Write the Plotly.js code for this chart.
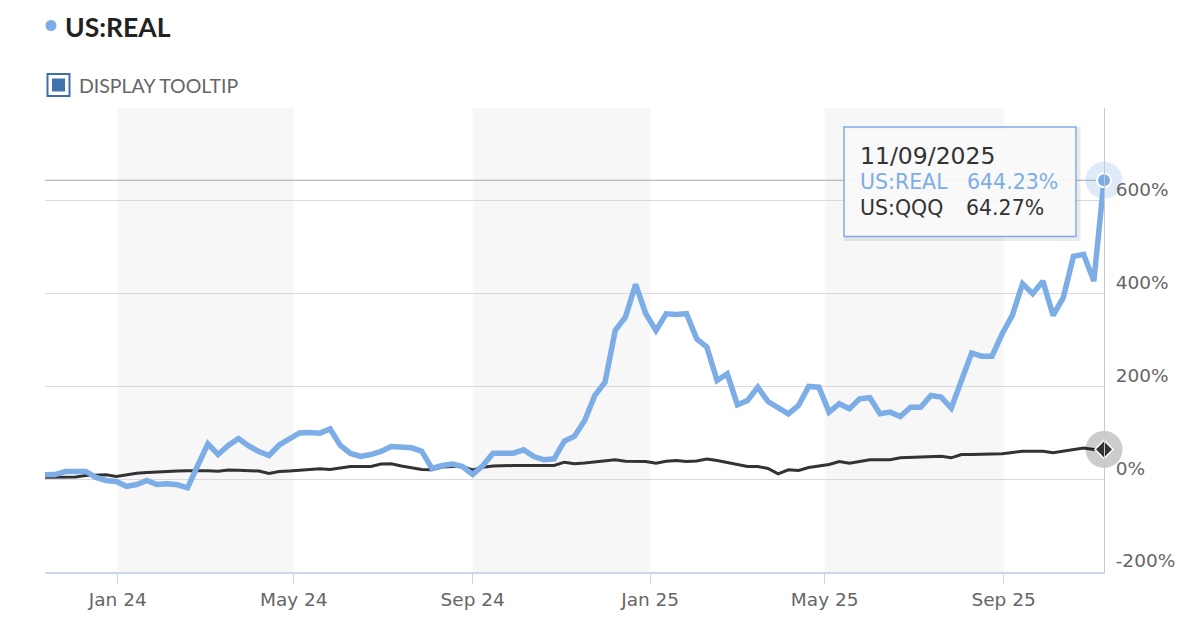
<!DOCTYPE html>
<html>
<head>
<meta charset="utf-8">
<script src="https://cdn.plot.ly/plotly-3.0.1.min.js"></script>
<style>
html,body{margin:0;padding:0;background:#fff;}
#chart{width:1200px;height:633px;}
</style>
</head>
<body>
<div id="chart"></div>
<script>
const dates = [
'2023-11-12','2023-11-19','2023-11-26','2023-12-03','2023-12-10','2023-12-17','2023-12-24','2023-12-31',
'2024-01-07','2024-01-14','2024-01-21','2024-01-28','2024-02-04','2024-02-11','2024-02-18','2024-02-25',
'2024-03-03','2024-03-10','2024-03-17','2024-03-24','2024-03-31','2024-04-07','2024-04-14','2024-04-21',
'2024-04-28','2024-05-05','2024-05-12','2024-05-19','2024-05-26','2024-06-02','2024-06-09','2024-06-16',
'2024-06-23','2024-06-30','2024-07-07','2024-07-14','2024-07-21','2024-07-28','2024-08-04','2024-08-11',
'2024-08-18','2024-08-25','2024-09-01','2024-09-08','2024-09-15','2024-09-22','2024-09-29','2024-10-06',
'2024-10-13','2024-10-20','2024-10-27','2024-11-03','2024-11-10','2024-11-17','2024-11-24','2024-12-01',
'2024-12-08','2024-12-15','2024-12-22','2024-12-29',
'2025-01-05','2025-01-12','2025-01-19','2025-01-26','2025-02-02','2025-02-09','2025-02-16','2025-02-23',
'2025-03-02','2025-03-09','2025-03-16','2025-03-23','2025-03-30','2025-04-06','2025-04-13','2025-04-20',
'2025-04-27','2025-05-04','2025-05-11','2025-05-18','2025-05-25','2025-06-01','2025-06-08','2025-06-15',
'2025-06-22','2025-06-29','2025-07-06','2025-07-13','2025-07-20','2025-07-27','2025-08-03','2025-08-10',
'2025-08-17','2025-08-24','2025-08-31','2025-09-07','2025-09-14','2025-09-21','2025-09-28','2025-10-05',
'2025-10-12','2025-10-19','2025-10-26','2025-11-02','2025-11-09'
];

const realPct = [
9.5,10,16.6,16.6,16.6,3.7,-2.8,-5,-15.7,-11.4,
-2.8,-11.4,-9.9,-12,-18.5,29.5,76.3,53.2,72.7,87.7,
71.6,59.7,51.1,73.7,87.7,99.6,100.7,99.2,108.2,72.7,
55.4,48.9,53.2,59.7,70.5,70.5,67.7,60.4,23.1,29.5,
32.8,27.4,10.1,29.5,56,56,56,63.4,48.9,41.8,
44,81.9,92.7,126.6,180.5,209.1,320.6,349.3,419.8,356.6,
320.6,356.6,355.1,356.6,302.7,284.6,212.8,227.2,160.4,169.7,
198.4,167.5,155.2,141,158.9,199.9,198.4,144.5,162.6,151.8,
173.3,175.5,141,144.5,135.2,155.2,155.2,180.5,176.8,153.1,
212.8,271.7,265.2,265.2,313.5,353,421.3,399.7,426.9,353,
391.1,480.2,484.5,426.9,644.23
];

const qqqPct = [
4.3,4.3,4.3,4.7,8,9.5,9.5,5.8,9.5,12.9,
14.4,16,17.2,17.7,18.3,18.8,18.1,17.2,19.8,19.4,
19.2,17.7,12.3,16.6,17.7,18.8,20.9,22.4,20.9,24.1,
27.4,27.4,27.4,32.8,33.2,28.5,24.1,20.9,20.3,26.3,
27.4,27.4,19.8,25.7,28.5,29.5,29.5,29.5,29.5,29.5,
29.5,36.7,33.2,34.9,36.7,39.7,41.8,38.6,38.2,38.2,
34.5,38.6,40.3,38.2,39.2,43.6,40.3,36,31,27.4,
27.4,23.1,11.6,20.3,18.8,25.2,28.5,31.7,38.2,34.5,
38.2,41.8,41.8,41.8,46.1,46.8,47.4,48.5,49.6,46.1,
53.3,53.3,53.3,53.9,54.8,57.6,60.4,60.4,60.4,56.9,
60.2,63.4,67.3,64,64.27
];

const seriesNames = ['US:REAL', 'US:QQQ'];
const xTickVals = ['2024-01-01','2024-05-01','2024-09-01','2025-01-01','2025-05-01','2025-09-01'];
const yTickVals = [-200, 0, 200, 400, 600, 800];
const yTickText = ['-200%', '0%', '200%', '400%', '600%', ''];

const BLUE = '#7dade6';
const DARK = '#333333';
const last = dates.length - 1;

// pixel -> paper helpers (plot area 45..1104 x 108..572)
const L = 45, R = 1104, T = 108, B = 572;
const px = p => (p - L) / (R - L);
const py = p => (B - p) / (B - T);

const traces = [
  {x: dates, y: qqqPct, type: 'scatter', mode: 'lines', name: seriesNames[1],
   line: {color: DARK, width: 3}},
  {x: dates, y: realPct, type: 'scatter', mode: 'lines', name: seriesNames[0],
   line: {color: BLUE, width: 5.5}},
  {x: [dates[last]], y: [qqqPct[last]], type: 'scatter', mode: 'markers', cliponaxis: false,
   marker: {size: 37, color: 'rgba(0,0,0,0.2)'}},
  {x: [dates[last]], y: [qqqPct[last]], type: 'scatter', mode: 'markers', cliponaxis: false,
   marker: {size: 14, symbol: 'diamond', color: DARK, line: {color: '#fff', width: 1.5}}},
  {x: [dates[last]], y: [realPct[last]], type: 'scatter', mode: 'markers', cliponaxis: false,
   marker: {size: 37, color: 'rgba(125,173,230,0.25)'}},
  {x: [dates[last]], y: [realPct[last]], type: 'scatter', mode: 'markers', cliponaxis: false,
   marker: {size: 14, color: BLUE, line: {color: '#fff', width: 2}}}
];

const shapes = [];
for (let i = 0; i + 1 < xTickVals.length; i += 2) {
  shapes.push({type: 'rect', xref: 'x', yref: 'paper', x0: xTickVals[i], x1: xTickVals[i+1],
    y0: 0, y1: 1, fillcolor: '#f7f7f7', line: {width: 0}, layer: 'below'});
}
// crosshair at last REAL value
shapes.push({type: 'line', xref: 'paper', yref: 'y', x0: 0, x1: 1, y0: realPct[last], y1: realPct[last],
  line: {color: '#a8a8a8', width: 1}, layer: 'below'});
// tooltip shadow + box
shapes.push({type: 'rect', xref: 'paper', yref: 'paper', x0: px(846), x1: px(1078.5), y0: py(239), y1: py(129),
  line: {color: 'rgba(0,0,0,0.08)', width: 4}, fillcolor: 'rgba(0,0,0,0)'});
shapes.push({type: 'rect', xref: 'paper', yref: 'paper', x0: px(844), x1: px(1076), y0: py(236.5), y1: py(127),
  line: {color: BLUE, width: 1.5}, fillcolor: 'rgba(248,248,248,0.92)'});
// header dot
shapes.push({type: 'circle', xref: 'paper', yref: 'paper', x0: px(45.5), x1: px(56.5), y0: py(31), y1: py(20),
  fillcolor: BLUE, line: {width: 0}});
// checkbox
shapes.push({type: 'rect', xref: 'paper', yref: 'paper', x0: px(47.5), x1: px(69.5), y0: py(96), y1: py(74),
  fillcolor: '#fff', line: {color: '#3f6ea8', width: 2}});
shapes.push({type: 'rect', xref: 'paper', yref: 'paper', x0: px(52), x1: px(65), y0: py(91.5), y1: py(78.5),
  fillcolor: '#3f73ad', line: {width: 0}});

const d = dates[last].split('-');
const tipDate = d[1] + '/' + d[2] + '/' + d[0];
const TF = 'DejaVu Sans, Verdana, sans-serif';

const annotations = [
  {xref: 'paper', yref: 'paper', x: px(63), y: py(26.5), xanchor: 'left', yanchor: 'middle', showarrow: false,
   text: '<b>' + seriesNames[0] + '</b>', font: {family: 'Lato', size: 26.5, color: '#222'}},
  {xref: 'paper', yref: 'paper', x: px(77), y: py(85.5), xanchor: 'left', yanchor: 'middle', showarrow: false,
   text: 'DISPLAY TOOLTIP', font: {family: 'Lato', size: 19.5, color: '#666'}},
  {xref: 'paper', yref: 'paper', x: px(858), y: py(156), xanchor: 'left', yanchor: 'middle', showarrow: false,
   text: tipDate, font: {family: TF, size: 23.5, color: '#333'}},
  {xref: 'paper', yref: 'paper', x: px(858), y: py(182), xanchor: 'left', yanchor: 'middle', showarrow: false,
   text: seriesNames[0], font: {family: TF, size: 20.5, color: BLUE}},
  {xref: 'paper', yref: 'paper', x: px(965), y: py(182), xanchor: 'left', yanchor: 'middle', showarrow: false,
   text: realPct[last].toFixed(2) + '%', font: {family: TF, size: 20.5, color: BLUE}},
  {xref: 'paper', yref: 'paper', x: px(858), y: py(208.5), xanchor: 'left', yanchor: 'middle', showarrow: false,
   text: seriesNames[1], font: {family: TF, size: 20.5, color: '#333'}},
  {xref: 'paper', yref: 'paper', x: px(964), y: py(208.5), xanchor: 'left', yanchor: 'middle', showarrow: false,
   text: qqqPct[last].toFixed(2) + '%', font: {family: TF, size: 20.5, color: '#333'}}
];

const layout = {
  width: 1200, height: 633,
  margin: {l: L, r: 1200 - R, t: T, b: 633 - B, pad: 0},
  paper_bgcolor: '#fff', plot_bgcolor: '#fff',
  showlegend: false, hovermode: false,
  xaxis: {
    type: 'date', range: [dates[0], dates[last]],
    tickvals: xTickVals, tickformat: '%b %y',
    ticks: 'outside', ticklen: 10, tickwidth: 1, tickcolor: '#ccd6eb',
    showline: true, linecolor: '#ccd6eb', linewidth: 2,
    showgrid: false, zeroline: false,
    tickfont: {family: TF, size: 18.5, color: '#666'}
  },
  yaxis: {
    range: [-200, 800], side: 'right',
    tickvals: yTickVals, ticktext: yTickText,
    showline: true, linecolor: '#c8c8c8', linewidth: 1,
    showgrid: true, gridcolor: '#dadada', gridwidth: 1,
    zeroline: false, ticks: '',
    ticklabelshift: -11, ticklabelstandoff: 7,
    tickfont: {family: TF, size: 18.5, color: '#666'}
  },
  shapes: shapes,
  annotations: annotations
};

Plotly.newPlot('chart', traces, layout, {displayModeBar: false, staticPlot: true});
</script>
</body>
</html>
